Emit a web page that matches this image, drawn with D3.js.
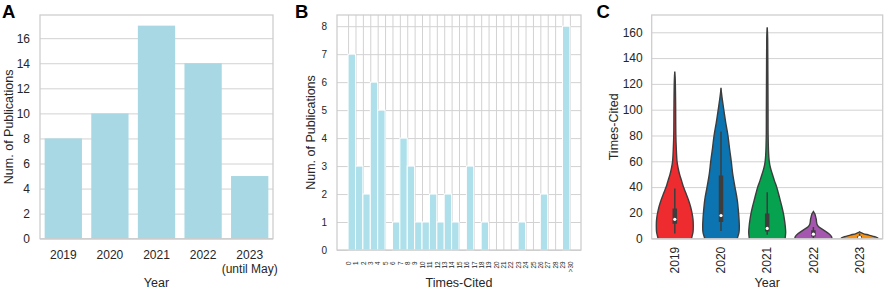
<!DOCTYPE html>
<html><head><meta charset="utf-8">
<script src="https://cdn.jsdelivr.net/npm/d3@7"></script>
<style>
body{margin:0;background:#fff}
svg{display:block}
text{font-family:"Liberation Sans",Arial,Helvetica,sans-serif;fill:#262626}
</style>
</head><body>
<svg id="chart" width="886" height="289"></svg>
<script>
// ---------- Panel A data ----------
const yearsA = ["2019", "2020", "2021", "2022", "2023"];
const yearLabelsA = [["2019"], ["2020"], ["2021"], ["2022"], ["2023", "(until May)"]];
const pubCounts = [8, 10, 17, 14, 5];
const yTicksA = [0, 2, 4, 6, 8, 10, 12, 14, 16];

// ---------- Panel B data ----------
const citeBinStarts = [0,1,2,3,4,5,6,7,8,9,10,11,12,13,14,15,16,17,18,19,20,21,22,23,24,25,26,27,28,29];
const citeCounts    = [7,3,2,6,5,0,1,4,3,1,1,2,1,2,1,0,3,0,1,0,0,0,0,1,0,0,2,0,0,8];
const citeTickValues = [0,1,2,3,4,5,6,7,8,9,10,11,12,13,14,15,16,17,18,19,20,21,22,23,24,25,26,27,28,29,30];
const citeTickLabels = ["0","1","2","3","4","5","6","7","8","9","10","11","12","13","14","15","16","17","18","19","20","21","22","23","24","25","26","27","28","29",">30"];
const yTicksB = [0, 1, 2, 3, 4, 5, 6, 7, 8];

// ---------- Panel C data ----------
const violinYears = ["2019", "2020", "2021", "2022", "2023"];
// density profiles: [times-cited, relative density]
const profile2019 = [[-6,0.90],[0,0.905],[5,0.985],[10,1.0],[15,0.985],[20,0.93],[25,0.85],[30,0.74],[35,0.61],[40,0.47],[45,0.365],[50,0.257],[55,0.175],[60,0.12],[70,0.08],[80,0.057],[90,0.05],[100,0.047],[110,0.04],[120,0.03],[126,0.015],[129.5,0]];
const profile2020 = [[-6,0.86],[0,0.88],[5,0.975],[10,0.99],[15,0.975],[20,0.95],[30,0.88],[40,0.755],[50,0.635],[60,0.555],[70,0.46],[80,0.375],[90,0.255],[100,0.15],[108,0.07],[113,0.025],[117,0]];
const profile2021 = [[-6,0.95],[0,0.97],[5,1.0],[10,0.975],[15,0.93],[20,0.87],[25,0.79],[30,0.70],[35,0.61],[40,0.515],[45,0.39],[50,0.28],[55,0.175],[60,0.11],[65,0.08],[80,0.05],[100,0.045],[130,0.035],[155,0.025],[161,0.012],[163.8,0]];
const profile2022 = [[-4,1.0],[0,1.0],[1.5,0.985],[4,0.825],[6.7,0.555],[9.3,0.285],[11,0.2],[13,0.17],[15,0.155],[17,0.12],[19,0.085],[20.3,0.03],[21,0]];
const profile2023 = [[-3,1.0],[0,1.0],[0.5,0.985],[1.5,0.825],[2.8,0.5],[4,0.19],[4.8,0.07],[5.4,0]];
const whiskerLow  = [4, 6, 3, 0.5, 0];
const quartile1   = [11.5, 13, 5.5, 1.8, 0.2];
const medians     = [15, 18, 8, 3.5, 1];
const quartile3   = [23.5, 49, 19.5, 6.5, 2];
const whiskerHigh = [39, 83, 36, 9, 4];
const yTicksC = [0, 20, 40, 60, 80, 100, 120, 140, 160];

// ---------- styles ----------
const violinColors = ["#ee2b2e", "#0b74b1", "#07a24f", "#a556ae", "#f7910f"];
const gridColor = "#d2d2d2";
const spineColor = "#cccccc";
const darkGray = "#3d3d3d";

const svg = d3.select("#chart");

function styleAxis(g, fontSize) {
  g.select(".domain").remove();
  g.selectAll(".tick line").attr("stroke", gridColor).attr("stroke-width", 1);
  g.selectAll("text").attr("font-size", fontSize);
}
function frame(x0, y0, x1, y1) {
  svg.append("rect").attr("x", x0).attr("y", y0).attr("width", x1 - x0).attr("height", y1 - y0)
    .attr("fill", "none").attr("stroke", spineColor).attr("stroke-width", 1.25);
}
function panelLetter(t, x, y) {
  svg.append("text").attr("x", x).attr("y", y).attr("font-size", 18.5).attr("font-weight", "bold")
    .style("fill", "#000").text(t);
}

// ================= Panel A =================
{
  const L = 40, R = 273, T = 15, B = 238.7;
  const x = d3.scaleBand().domain(yearsA).range([L, R]).paddingInner(0.2).paddingOuter(0.1);
  const y = d3.scaleLinear().domain([0, 17.85]).range([B, T]);

  const gy = svg.append("g").attr("transform", `translate(${L},0)`)
    .call(d3.axisLeft(y).tickValues(yTicksA).tickSize(-(R - L)).tickPadding(10));
  styleAxis(gy, 12);

  svg.append("g").selectAll("rect").data(pubCounts).join("rect")
    .attr("x", (d, i) => x(yearsA[i])).attr("width", x.bandwidth())
    .attr("y", d => y(d)).attr("height", d => B - y(d))
    .attr("fill", "#a7d8e4");

  const gx = svg.append("g").attr("transform", `translate(0,${B})`)
    .call(d3.axisBottom(x).tickSize(0));
  styleAxis(gx, 12);
  gx.selectAll(".tick text").each(function(d, i) {
    const t = d3.select(this).text("").attr("dy", null).attr("y", null);
    yearLabelsA[i].forEach((line, j) => {
      t.append("tspan").attr("x", 0).attr("y", 20.6 + j * 13.6).text(line);
    });
  });

  frame(L, T, R, B);
  svg.append("text").attr("x", (L + R) / 2).attr("y", 286.7).attr("text-anchor", "middle")
    .attr("font-size", 12.5).text("Year");
  svg.append("text").attr("transform", `translate(13.3,${(T + B) / 2}) rotate(-90)`)
    .attr("text-anchor", "middle").attr("font-size", 12.5).text("Num. of Publications");
  panelLetter("A", 2, 18.3);
}

// ================= Panel B =================
{
  const L = 337, R = 581, T = 15, B = 250;
  const x = d3.scaleLinear().domain([-1.5, 31.5]).range([L, R]);
  const y = d3.scaleLinear().domain([0, 8.4]).range([B, T]);

  const gy = svg.append("g").attr("transform", `translate(${L},0)`)
    .call(d3.axisLeft(y).tickValues(yTicksB).tickSize(-(R - L)).tickPadding(10));
  styleAxis(gy, 10);

  const gx = svg.append("g").attr("transform", `translate(0,${B})`)
    .call(d3.axisBottom(x).tickValues(citeTickValues).tickSize(-(B - T))
      .tickFormat((d, i) => citeTickLabels[i]));
  styleAxis(gx, 6.3);
  gx.selectAll(".tick text").attr("transform", "rotate(-90)").attr("text-anchor", "end")
    .attr("x", -11.5).attr("y", 0).attr("dy", "0.35em");

  const idx = citeCounts.map((c, i) => i).filter(i => citeCounts[i] > 0);
  svg.append("g").selectAll("rect").data(idx).join("rect")
    .attr("x", i => x(citeBinStarts[i])).attr("width", i => x(citeBinStarts[i] + 1) - x(citeBinStarts[i]))
    .attr("y", i => y(citeCounts[i])).attr("height", i => B - y(citeCounts[i]))
    .attr("fill", "#ade0eb").attr("stroke", "#fff").attr("stroke-width", 1);

  frame(L, T, R, B);
  svg.append("text").attr("x", (L + R) / 2).attr("y", 286.7).attr("text-anchor", "middle")
    .attr("font-size", 12.5).text("Times-Cited");
  svg.append("text").attr("transform", `translate(315,${(T + B) / 2}) rotate(-90)`)
    .attr("text-anchor", "middle").attr("font-size", 12.5).text("Num. of Publications");
  panelLetter("B", 295, 18.3);
}

// ================= Panel C =================
{
  const L = 651.7, R = 882.7, T = 15, B = 238.7;
  const x = d3.scaleBand().domain(violinYears).range([L, R]);
  const y = d3.scaleLinear().domain([0, 173.4]).range([B, T]);

  const gy = svg.append("g").attr("transform", `translate(${L},0)`)
    .call(d3.axisLeft(y).tickValues(yTicksC).tickSize(-(R - L)).tickPadding(9));
  styleAxis(gy, 12);

  svg.append("clipPath").attr("id", "clipC").append("rect")
    .attr("x", L).attr("y", T).attr("width", R - L).attr("height", B - T);

  const profiles = [profile2019, profile2020, profile2021, profile2022, profile2023];
  const maxHalf = x.bandwidth() * 0.4;
  const gv = svg.append("g").attr("clip-path", "url(#clipC)");
  profiles.forEach((prof, i) => {
    const cx = x(violinYears[i]) + x.bandwidth() / 2;
    const area = d3.area()
      .y(d => y(d[0]))
      .x0(d => cx - d[1] * maxHalf)
      .x1(d => cx + d[1] * maxHalf)
      .curve(d3.curveCatmullRom);
    gv.append("path").attr("d", area(prof))
      .attr("fill", violinColors[i]).attr("stroke", darkGray).attr("stroke-width", 1.4);
    gv.append("line").attr("x1", cx).attr("x2", cx)
      .attr("y1", y(whiskerLow[i])).attr("y2", y(whiskerHigh[i]))
      .attr("stroke", darkGray).attr("stroke-width", 1.5);
    gv.append("line").attr("x1", cx).attr("x2", cx)
      .attr("y1", y(quartile1[i])).attr("y2", y(quartile3[i]))
      .attr("stroke", darkGray).attr("stroke-width", 4.5);
    gv.append("circle").attr("cx", cx).attr("cy", y(medians[i])).attr("r", 1.6)
      .attr("fill", "#fff");
  });

  const gx = svg.append("g").attr("transform", `translate(0,${B})`)
    .call(d3.axisBottom(x).tickSize(0));
  styleAxis(gx, 12);
  gx.selectAll(".tick text").attr("transform", "rotate(-90)").attr("text-anchor", "end")
    .attr("x", -8).attr("y", 0).attr("dy", "0.35em");

  frame(L, T, R, B);
  svg.append("text").attr("x", (L + R) / 2).attr("y", 287).attr("text-anchor", "middle")
    .attr("font-size", 12.5).text("Year");
  svg.append("text").attr("transform", `translate(618,${(T + B) / 2}) rotate(-90)`)
    .attr("text-anchor", "middle").attr("font-size", 12.5).text("Times-Cited");
  panelLetter("C", 596.5, 18.3);
}
</script>
</body></html>
